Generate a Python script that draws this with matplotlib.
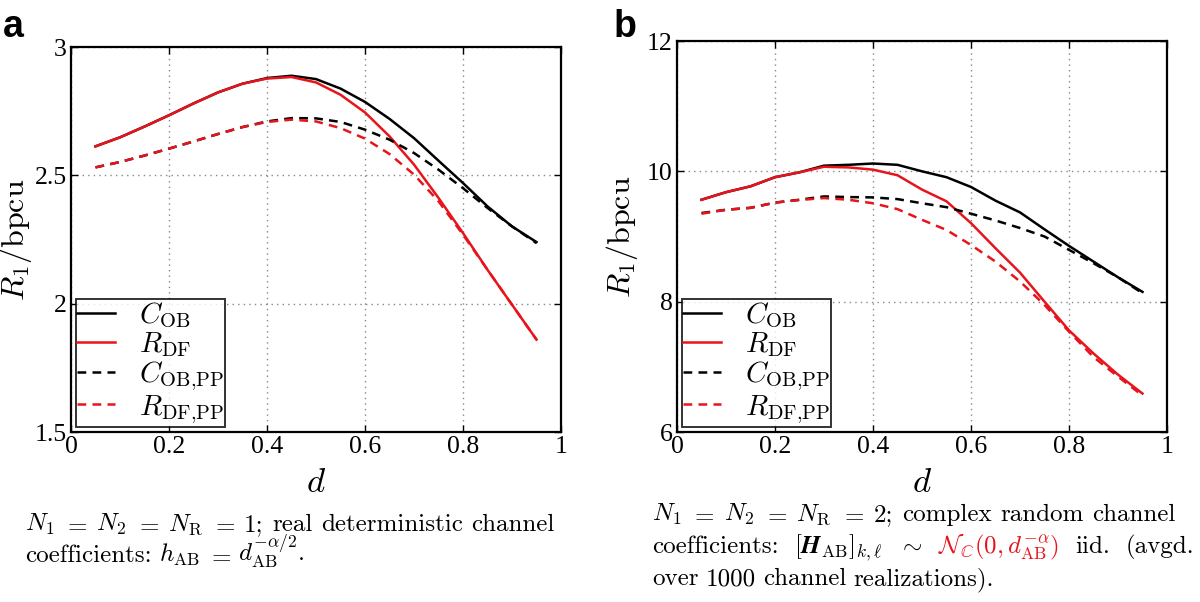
import matplotlib
matplotlib.use("Agg")
import matplotlib.pyplot as plt
import numpy as np

plt.rcParams['mathtext.fontset'] = 'cm'

d = [0.05, 0.10, 0.15, 0.20, 0.25, 0.30, 0.35, 0.40, 0.45, 0.50,
     0.55, 0.60, 0.65, 0.70, 0.75, 0.80, 0.85, 0.90, 0.95]

# Panel a
a_C_OB = [2.613, 2.648, 2.69, 2.734, 2.78, 2.823, 2.857, 2.879, 2.888, 2.875,
          2.838, 2.786, 2.72, 2.645, 2.557, 2.47, 2.379, 2.301, 2.24]
a_R_DF = [2.613, 2.648, 2.69, 2.734, 2.78, 2.823, 2.857, 2.877, 2.883, 2.862,
          2.814, 2.745, 2.652, 2.542, 2.412, 2.275, 2.132, 1.996, 1.86]
a_C_PP = [2.531, 2.552, 2.577, 2.604, 2.632, 2.661, 2.688, 2.71, 2.723, 2.722,
          2.708, 2.678, 2.639, 2.587, 2.522, 2.45, 2.373, 2.301, 2.236]
a_R_PP = [2.531, 2.552, 2.577, 2.604, 2.632, 2.661, 2.688, 2.708, 2.717, 2.71,
          2.684, 2.643, 2.583, 2.503, 2.399, 2.269, 2.132, 1.996, 1.86]

# Panel b
b_C_OB = [9.564, 9.68, 9.77, 9.91, 9.985, 10.087, 10.10, 10.12, 10.10, 10.0,
          9.91, 9.76, 9.55, 9.37, 9.11, 8.856, 8.615, 8.374, 8.15]
b_R_DF = [9.564, 9.68, 9.77, 9.91, 9.985, 10.07, 10.06, 10.026, 9.94, 9.72,
          9.54, 9.205, 8.82, 8.446, 8.0, 7.56, 7.205, 6.88, 6.59]
b_C_PP = [9.36, 9.41, 9.44, 9.52, 9.564, 9.615, 9.605, 9.6, 9.574, 9.51,
          9.45, 9.35, 9.246, 9.13, 9.0, 8.795, 8.59, 8.374, 8.13]
b_R_PP = [9.35, 9.41, 9.44, 9.52, 9.56, 9.59, 9.564, 9.51, 9.42, 9.256,
          9.10, 8.87, 8.615, 8.31, 7.95, 7.54, 7.15, 6.85, 6.56]

labels = [r'$C_{\mathrm{OB}}$', r'$R_{\mathrm{DF}}$',
          r'$C_{\mathrm{OB{,}PP}}$', r'$R_{\mathrm{DF{,}PP}}$']
xticks = [0, 0.2, 0.4, 0.6, 0.8, 1]
xticklabels = ['0', '0.2', '0.4', '0.6', '0.8', '1']
a_yticks = [1.5, 2, 2.5, 3]
a_yticklabels = ['1.5', '2', '2.5', '3']
b_yticks = [6, 8, 10, 12]
b_yticklabels = ['6', '8', '10', '12']

RED = '#e8141c'
W, H = 1200, 602
fig = plt.figure(figsize=(12, 6.02), dpi=100)

def px_axes(l, t, r, b):
    return fig.add_axes([l / W, (H - b) / H, (r - l) / W, (b - t) / H])

axa = px_axes(71, 47, 561, 432)
axb = px_axes(677, 41, 1167, 432)

tickfont = {'family': 'Liberation Serif', 'size': 18.5}

def style(ax, series, yticks, yticklabels, ylim):
    cols = ['black', RED, 'black', RED]
    lss = ['-', '-', (0, (3.5, 2.5)), (0, (3.5, 2.5))]
    for s, c, ls, lab in zip(series, cols, lss, labels):
        ax.plot(d, s, color=c, linestyle=ls, lw=1.8, label=lab)
    ax.set_xlim(0, 1)
    ax.set_ylim(*ylim)
    ax.set_xticks(xticks)
    ax.set_xticklabels(xticklabels, fontdict=tickfont)
    ax.set_yticks(yticks)
    ax.set_yticklabels(yticklabels, fontdict=tickfont)
    ax.grid(True, color='#888888', linestyle=(0, (1, 3)), lw=1.0)
    ax.tick_params(direction='in', top=True, right=True, length=5, width=1.0, pad=3)
    ax.tick_params(axis='y', pad=3)
    for sp in ax.spines.values():
        sp.set_linewidth(1.6)
    ax.set_xlabel(r'$d$', fontsize=25, labelpad=5)
    ax.set_ylabel(r'$R_1/\mathrm{bpcu}$', fontsize=23)
    ax.yaxis.set_label_coords(-0.076, 0.5)
    leg = ax.legend(loc='lower left', fontsize=21, frameon=True, fancybox=False,
                    borderaxespad=0.17, handlelength=1.3, handletextpad=0.8,
                    labelspacing=0.0, borderpad=0.05)
    leg.get_frame().set_edgecolor('black')
    leg.get_frame().set_linewidth(1.4)

style(axa, [a_C_OB, a_R_DF, a_C_PP, a_R_PP], a_yticks, a_yticklabels, (1.5, 3))
style(axb, [b_C_OB, b_R_DF, b_C_PP, b_R_PP], b_yticks, b_yticklabels, (6, 12))

fig.text(3 / W, 1 - 37 / H, 'a', fontfamily='Liberation Sans', fontweight='bold',
         fontsize=27, va='baseline', ha='left')
fig.text(614 / W, 1 - 37 / H, 'b', fontfamily='Liberation Sans', fontweight='bold',
         fontsize=27, va='baseline', ha='left')

capsize = 18
capfont = dict(fontfamily='cmr10', fontsize=capsize, va='baseline', ha='left')
renderer = fig.canvas.get_renderer()

def line(pieces, x0, y, x1=None, gap=7):
    """Place word pieces on one baseline; justify to x1 if given."""
    arts = []
    widths = []
    for txt, col in pieces:
        t = fig.text(0, 1 - y / H, txt, color=col, **capfont)
        widths.append(t.get_window_extent(renderer=renderer).width)
        arts.append(t)
    if x1 is not None and len(pieces) > 1:
        gap = max(3, (x1 - x0 - sum(widths)) / (len(pieces) - 1))
    x = x0
    for t, w in zip(arts, widths):
        t.set_x(x / W)
        x += w + gap

K = 'black'
line([(r'$N_1$', K), (r'$=$', K), (r'$N_2$', K), (r'$=$', K),
      (r'$N_\mathrm{R}$', K), (r'$=$', K), ('1;', K), ('real', K),
      ('deterministic', K), ('channel', K)], 25, 531, 555)
line([('coefficients:', K), (r'$h_\mathrm{AB}$', K), (r'$=$', K),
      (r'$d_\mathrm{AB}^{-\alpha/2}$.', K)], 25, 562)

line([(r'$N_1$', K), (r'$=$', K), (r'$N_2$', K), (r'$=$', K),
      (r'$N_\mathrm{R}$', K), (r'$=$', K), ('2;', K), ('complex', K),
      ('random', K), ('channel', K)], 652, 521, 1176)
line([('coefficients:', K), (r'$[\mathbfit{H}_\mathrm{AB}]_{k,\ell}$', K),
      (r'$\sim$', K), (r'$\mathcal{N}_\mathbb{C}(0,d_\mathrm{AB}^{-\alpha})$', RED),
      ('iid.', K), ('(avgd.', K)], 652, 553, 1194)
line([('over', K), ('1000', K), ('channel', K),
      ('realizations).', K)], 652, 585)

fig.savefig('out.png', dpi=100)
